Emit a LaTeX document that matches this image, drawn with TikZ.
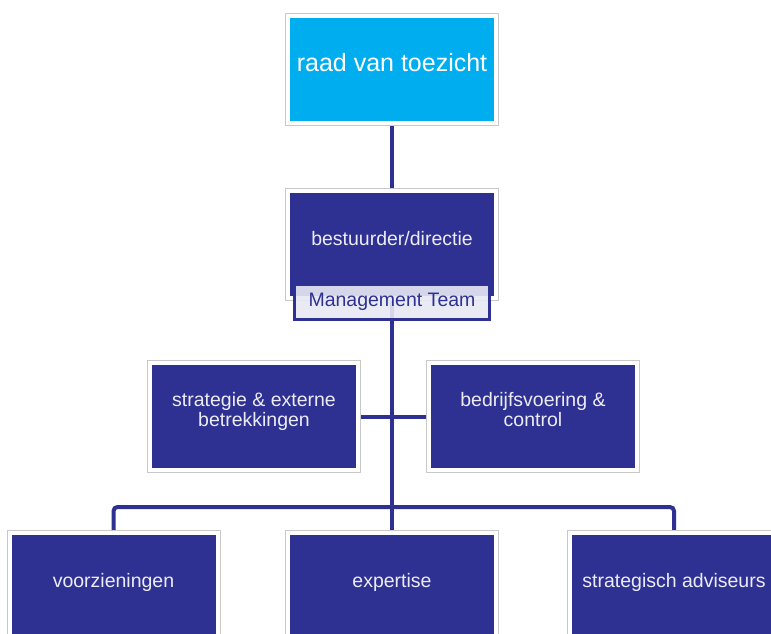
\documentclass[tikz,border=0pt]{standalone}
\usepackage{fontspec}
\setmainfont{Liberation Sans}
\usetikzlibrary{backgrounds}

\definecolor{mtnavy}{RGB}{46,49,146}
\definecolor{rvtcyan}{RGB}{0,174,239}
\definecolor{framegrey}{RGB}{200,200,200}
\definecolor{mtlight}{RGB}{232,232,244}
\definecolor{boxtext}{RGB}{236,236,246}

\tikzset{
  orgbox/.style={rectangle, inner sep=0pt, outer sep=0pt,
    minimum width=208, minimum height=107,
    fill=mtnavy, text=boxtext, align=center,
    draw=white, line width=4pt,
    preaction={draw=framegrey, line width=6pt},
    font=\fontsize{19.5}{20}\selectfont,
    text height=14pt, text depth=12pt},
  twoline/.style={text height=34pt, text depth=14pt},
  mtbox/.style={rectangle, inner sep=0pt, outer sep=0pt,
    minimum width=195, minimum height=35,
    fill=mtlight, fill opacity=0.9, text opacity=1,
    draw=mtnavy, line width=3pt, text=mtnavy,
    font=\fontsize{19.5}{20}\selectfont},
  link/.style={draw=mtnavy, line width=4pt},
}

\begin{document}
\begin{tikzpicture}[x=1pt, y=-1pt]
  \useasboundingbox (0,0) rectangle (771,634);
  \clip (0,0) rectangle (771,634);

  \node[orgbox, fill=rvtcyan, text=white, font=\fontsize{25}{30}\selectfont,
    text height=18pt, text depth=15pt] (rvt) at (392, 69.5){raad van toezicht};
  \node[orgbox] (dir) at (392, 244.5){bestuurder/directie};
  \node[mtbox] (mt) at (392, 302){Management Team};

  \node[orgbox, twoline] (strat) at (254, 416.5){strategie \& externe\\betrekkingen};
  \node[orgbox, twoline] (bedr) at (533, 416.5){bedrijfsvoering \&\\control};

  \node[orgbox] (voorz) at (113.5, 586.5){voorzieningen};
  \node[orgbox] (exp) at (392, 586.5){expertise};
  \node[orgbox] (adv) at (674, 586.5){strategisch adviseurs};

  \coordinate (bus) at (392, 507);

  \begin{scope}[on background layer]
    \path [link] (rvt) edge (bus);
    \path [link] (strat) edge (bedr);
    \path [link, rounded corners=4] (voorz.north) |- (bus) -| (adv.north);
    \path [link] (bus) edge (exp);
  \end{scope}
\end{tikzpicture}
\end{document}
